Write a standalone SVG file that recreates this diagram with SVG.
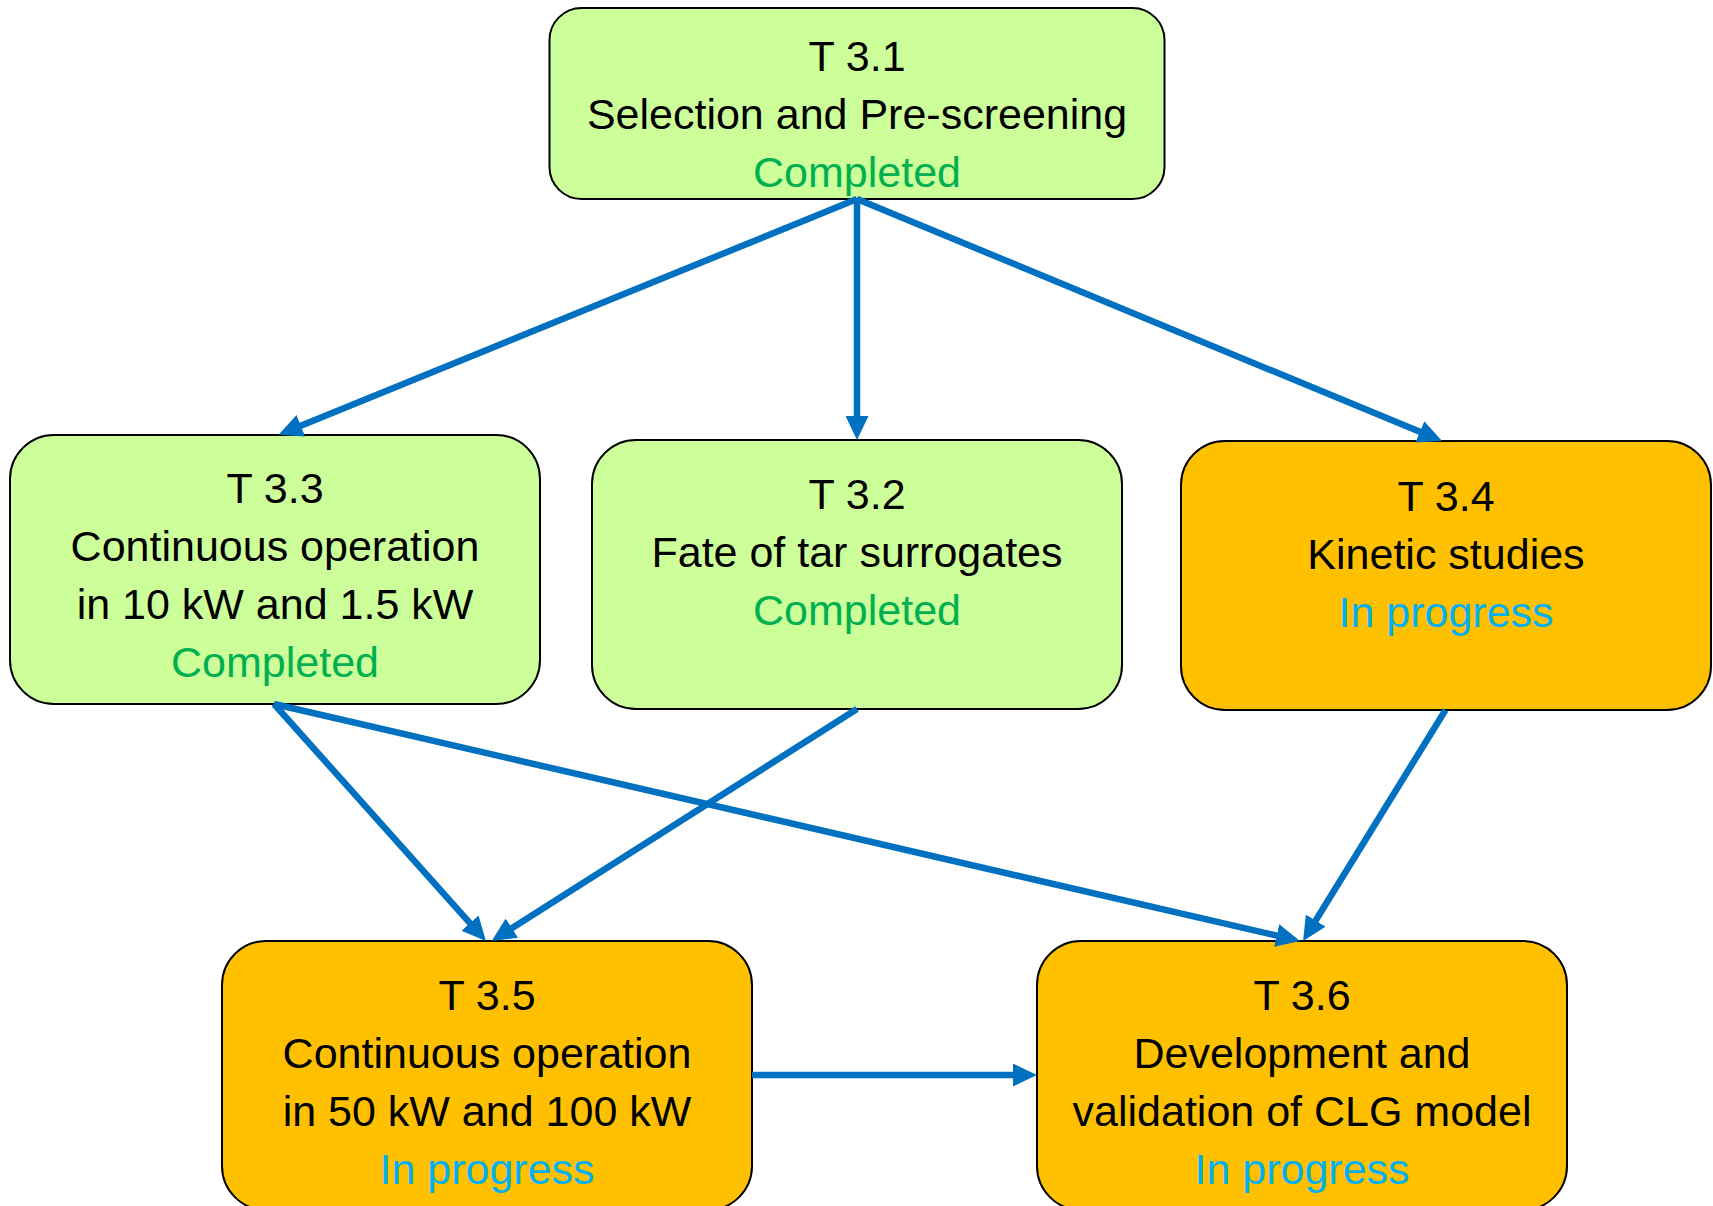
<svg xmlns="http://www.w3.org/2000/svg" width="1713" height="1206" viewBox="0 0 1713 1206">
<defs>
<style>
.box{stroke:#000;stroke-width:2}
.done{fill:#CCFF99}
.prog{fill:#FFC000}
text{font-family:"Liberation Sans",Arial,sans-serif;font-size:43px;text-anchor:middle;fill:#000}
.sc{fill:#00B050}
.sp{fill:#00B0F0}
.conn line{stroke:#0070C0;stroke-width:6.5;marker-end:url(#ah)}
</style>
<marker id="ah" markerUnits="userSpaceOnUse" markerWidth="24" markerHeight="23" refX="2" refY="11.5" orient="auto" viewBox="0 0 24 23">
<path d="M0,0 L24,11.5 L0,23 z" fill="#0070C0"/>
</marker>
</defs>
<rect width="1713" height="1206" fill="#fff"/>
<g id="n31">
<rect class="box done" x="549.5" y="8" width="615" height="191" rx="32" ry="32"/>
<text x="857" y="71">T 3.1</text>
<text x="857" y="129">Selection and Pre-screening</text>
<text x="857" y="187" class="sc">Completed</text>
</g>
<g id="n33">
<rect class="box done" x="10" y="435" width="530" height="269" rx="44" ry="44"/>
<text x="275" y="503">T 3.3</text>
<text x="275" y="561">Continuous operation</text>
<text x="275" y="619">in 10 kW and 1.5 kW</text>
<text x="275" y="677" class="sc">Completed</text>
</g>
<g id="n32">
<rect class="box done" x="592" y="440" width="530" height="269" rx="44" ry="44"/>
<text x="857" y="509">T 3.2</text>
<text x="857" y="567">Fate of tar surrogates</text>
<text x="857" y="625" class="sc">Completed</text>
</g>
<g id="n34">
<rect class="box prog" x="1181" y="441" width="530" height="269" rx="44" ry="44"/>
<text x="1446" y="511">T 3.4</text>
<text x="1446" y="569">Kinetic studies</text>
<text x="1446" y="627" class="sp">In progress</text>
</g>
<g id="n35">
<rect class="box prog" x="222" y="941" width="530" height="269" rx="44" ry="44"/>
<text x="487" y="1010">T 3.5</text>
<text x="487" y="1068">Continuous operation</text>
<text x="487" y="1126">in 50 kW and 100 kW</text>
<text x="487" y="1184" class="sp">In progress</text>
</g>
<g id="n36">
<rect class="box prog" x="1037" y="941" width="530" height="269" rx="44" ry="44"/>
<text x="1302" y="1010">T 3.6</text>
<text x="1302" y="1068">Development and</text>
<text x="1302" y="1126">validation of CLG model</text>
<text x="1302" y="1184" class="sp">In progress</text>
</g>
<g id="connectors" class="conn">
<line x1="857" y1="199" x2="299" y2="426.5"/>
<line x1="857" y1="199" x2="857" y2="418"/>
<line x1="857" y1="199" x2="1421.7" y2="432.6"/>
<line x1="274" y1="704" x2="471.3" y2="924.6"/>
<line x1="857" y1="709" x2="510.2" y2="929.2"/>
<line x1="274" y1="704" x2="1278.6" y2="936"/>
<line x1="1445.5" y1="710" x2="1314.6" y2="922.3"/>
<line x1="752" y1="1075" x2="1015" y2="1075"/>
</g>
</svg>
